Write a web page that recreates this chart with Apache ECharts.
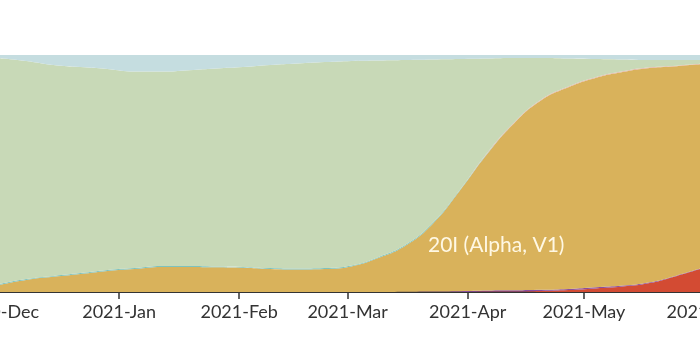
<!DOCTYPE html>
<html>
<head>
<meta charset="utf-8">
<script src="https://cdn.jsdelivr.net/npm/echarts@6/dist/echarts.min.js"></script>
<style>
html,body{margin:0;padding:0;background:#fff;}
#chart{width:700px;height:347px;}
</style>
</head>
<body>
<div id="chart"></div>
<script>
// Weekly dates (Dec 1 2020 .. Jun 1 2021)
const dates = ["2020-12-01","2020-12-08","2020-12-15","2020-12-22","2020-12-29","2021-01-05","2021-01-12","2021-01-19","2021-01-26","2021-02-02","2021-02-09","2021-02-16","2021-02-23","2021-03-02","2021-03-09","2021-03-16","2021-03-23","2021-03-30","2021-04-06","2021-04-13","2021-04-20","2021-04-27","2021-05-04","2021-05-11","2021-05-18","2021-05-25","2021-06-01"];
const tickLabels = ["2020-Dec","2021-Jan","2021-Feb","2021-Mar","2021-Apr","2021-May","2021-Jun"];

// Frequencies (stack from bottom)
const redVals    = [0,0,0,0,0,0,0,0,0,0,0,0,0,0,0,0,0,0,0.002,0.002,0.004,0.008,0.015,0.023,0.038,0.068,0.102];
const purpleVals = [0,0,0,0,0,0,0,0,0,0,0,0,0,0,0,0.001,0.002,0.003,0.004,0.005,0.005,0.005,0.005,0.004,0.003,0.002,0.002];
const alphaVals  = [0.030,0.051,0.064,0.076,0.089,0.097,0.106,0.106,0.104,0.102,0.097,0.095,0.097,0.108,0.144,0.195,0.286,0.425,0.575,0.705,0.800,0.851,0.883,0.901,0.904,0.883,0.858];
const tealVals   = [0.004,0.004,0.004,0.004,0.004,0.004,0.004,0.004,0.004,0.004,0.004,0.004,0.004,0.004,0.004,0.004,0.004,0.003,0.002,0,0,0,0,0,0,0,0];
const pinkVals   = [0,0,0,0,0,0,0,0,0,0,0,0,0,0,0,0,0,0,0.003,0.003,0.003,0.003,0.003,0.003,0.003,0.002,0.002];
const greenVals  = [0.953,0.920,0.890,0.869,0.848,0.829,0.820,0.826,0.835,0.843,0.857,0.865,0.869,0.863,0.829,0.779,0.689,0.552,0.399,0.272,0.175,0.118,0.077,0.050,0.031,0.024,0.015];
const blueVals   = [0.013,0.025,0.042,0.051,0.059,0.070,0.070,0.064,0.057,0.051,0.042,0.036,0.030,0.025,0.023,0.021,0.019,0.017,0.015,0.013,0.013,0.015,0.017,0.019,0.021,0.021,0.021];

const layers = [
  {name:"red", vals:redVals, color:"#d34b33"},
  {name:"purple", vals:purpleVals, color:"#8b4e9e"},
  {name:"20I (Alpha, V1)", vals:alphaVals, color:"#d9b25b"},
  {name:"teal", vals:tealVals, color:"#7ec2bd"},
  {name:"pink", vals:pinkVals, color:"#e2b0a2"},
  {name:"green", vals:greenVals, color:"#c8d9b7"},
  {name:"blue", vals:blueVals, color:"#c5dde0"}
];

const chart = echarts.init(document.getElementById('chart'));
const monthNames = ["Jan","Feb","Mar","Apr","May","Jun","Jul","Aug","Sep","Oct","Nov","Dec"];
chart.setOption({
  animation:false,
  grid:{left:-1,right:-4,top:55,bottom:55,containLabel:false,outerBoundsMode:'none'},
  xAxis:{
    type:'time',
    min:+new Date("2020-12-01T00:00:00Z"),
    max:+new Date("2021-06-01T00:00:00Z"),
    splitNumber:6,
    minInterval:28*86400000,
    axisLine:{show:true,lineStyle:{color:'#333',width:2}},
    axisTick:{show:true,length:7,lineStyle:{color:'#333',width:1.5}},
    axisLabel:{
      color:'#333',fontFamily:'Lato',fontSize:18,margin:11,
      showMinLabel:true,showMaxLabel:true,hideOverlap:false,
      formatter:function(v){const d=new Date(v);const m=d.getUTCMonth();const idx=(d.getUTCFullYear()-2020)*12+m-11;return tickLabels[idx]!==undefined?tickLabels[idx]:(d.getUTCFullYear()+'-'+monthNames[m]);}
    },
    splitLine:{show:false}
  },
  yAxis:{type:'value',min:0,max:1,show:false},
  series:layers.map(l=>({
    name:l.name,type:'line',stack:'all',smooth:0.5,symbol:'none',
    lineStyle:{width:0},
    areaStyle:{color:l.color,opacity:1},
    itemStyle:{color:l.color},
    data:dates.map((d,i)=>[d+"T00:00:00Z",l.vals[i]])
  })),
  graphic:{elements:[{type:'text',x:428,y:235,z:100,style:{text:'20I (Alpha, V1)',fill:'#fff8e4',fontSize:21,fontFamily:'Lato'}}]}
});
</script>
</body>
</html>
